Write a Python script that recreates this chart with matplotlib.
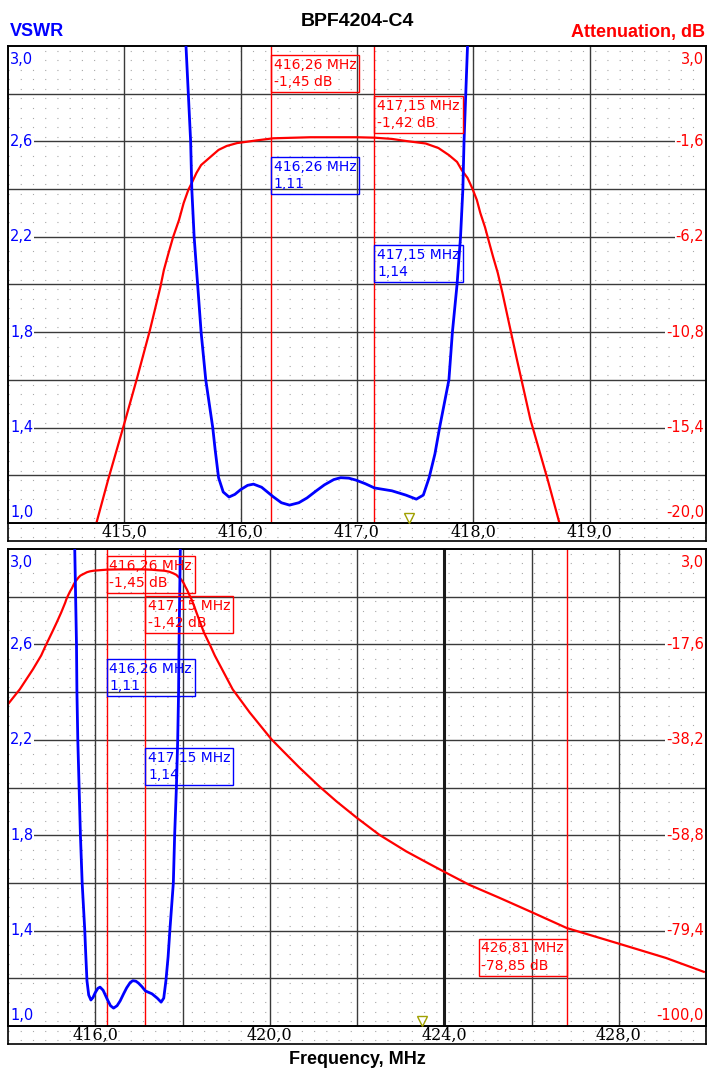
import numpy as np
import matplotlib
matplotlib.use("Agg")
import matplotlib.pyplot as plt
from matplotlib.transforms import blended_transform_factory

# --- data (same sweep shown in both panels) ---
vswr_freq = [415.53, 415.57, 415.58, 415.60, 415.63, 415.66, 415.70, 415.76, 415.78,
             415.81, 415.85, 415.90, 415.95, 416.00, 416.06, 416.11, 416.18, 416.28,
             416.35, 416.42, 416.50, 416.57, 416.65, 416.72, 416.80, 416.86, 416.93,
             416.99, 417.07, 417.15, 417.30, 417.42, 417.51, 417.57, 417.62, 417.67,
             417.71, 417.79, 417.82, 417.86, 417.89, 417.91, 417.92, 417.95]
vswr_val = [3.00, 2.60, 2.40, 2.20, 2.00, 1.80, 1.60, 1.40, 1.31,
            1.19, 1.13, 1.109, 1.12, 1.14, 1.158, 1.163, 1.15, 1.11,
            1.085, 1.075, 1.085, 1.105, 1.135, 1.16, 1.182, 1.19, 1.188,
            1.18, 1.165, 1.147, 1.135, 1.117, 1.10, 1.117, 1.19, 1.29,
            1.40, 1.60, 1.80, 2.00, 2.20, 2.40, 2.60, 3.00]

att_freq = [414.00, 414.27, 414.57, 414.76, 414.86, 415.01, 415.11, 415.22, 415.31,
            415.34, 415.38, 415.42, 415.47, 415.51, 415.55, 415.58, 415.62, 415.66,
            415.74, 415.81, 415.88, 415.97, 416.14, 416.28, 416.60, 417.00, 417.15,
            417.30, 417.42, 417.59, 417.70, 417.79, 417.86, 417.90, 417.95, 417.99,
            418.03, 418.06, 418.10, 418.13, 418.17, 418.21, 418.25, 418.37, 418.49,
            418.64, 418.74, 419.15, 419.54, 420.04, 420.29, 420.68, 421.14, 421.53,
            421.99, 422.51, 423.13, 423.66, 424.00, 424.57, 425.26, 426.00, 426.81,
            427.96, 429.08, 429.95]
att_val = [-30.5, -27.3, -23.0, -20.0, -17.93, -15.0, -13.0, -10.7, -8.62,
           -7.8, -6.98, -6.2, -5.39, -4.57, -3.94, -3.6, -3.12, -2.74,
           -2.35, -2.01, -1.82, -1.68, -1.55, -1.45, -1.40, -1.40, -1.42,
           -1.48, -1.58, -1.70, -1.92, -2.26, -2.59, -2.98, -3.36, -3.85,
           -4.42, -5.05, -5.73, -6.35, -7.17, -7.94, -8.9, -12.0, -15.0,
           -17.93, -20.0, -27.3, -32.3, -38.1, -40.5, -44.2, -48.3, -51.5,
           -55.0, -58.7, -62.3, -65.0, -66.7, -69.5, -72.3, -75.4, -78.85,
           -82.1, -85.3, -88.3]

marker_freq = [416.26, 417.15]
marker_att_txt = ["-1,45 dB", "-1,42 dB"]
marker_vswr_txt = ["1,11", "1,14"]
far_marker_freq = 426.81
far_marker_txt = "-78,85 dB"

vswr_ticks = [1.0, 1.4, 1.8, 2.2, 2.6, 3.0]
top_att_ticks = [-20.0, -15.4, -10.8, -6.2, -1.6, 3.0]
bot_att_ticks = [-100.0, -79.4, -58.8, -38.2, -17.6, 3.0]
top_freq_labels = [415.0, 416.0, 417.0, 418.0, 419.0]
bot_freq_labels = [416.0, 420.0, 424.0, 428.0]

BLUE = "#0000ff"
RED = "#ff0000"
GRID = "#3a3a3a"
DOTS = "#a8a8a8"

W, H = 715, 1076
fig = plt.figure(figsize=(W / 100, H / 100), dpi=100)


def px_axes(x0, y0, x1, y1):
    return fig.add_axes([x0 / W, 1 - y1 / H, (x1 - x0) / W, (y1 - y0) / H])


def fmt(v, nd=1):
    return f"{v:.{nd}f}".replace(".", ",")


def panel(y_top, y_bot, y_strip, xlim, xstep, xlabels, alim, aticks, tri_freq,
          boxes, heavy=None, far=False):
    ax2 = px_axes(8, y_top, 706, y_bot)
    ax2.set_xlim(xlim)
    ax2.set_ylim(alim)
    ax = ax2.twinx()
    ax.set_ylim(1.0, 3.0)
    ax2.set_zorder(1)
    ax.set_zorder(2)
    ax.patch.set_visible(False)
    for a in (ax, ax2):
        a.set_xticks([])
        a.set_yticks([])
        for s in a.spines.values():
            s.set_color("black")
            s.set_linewidth(1.2)

    # background dots and grid
    for k in range(50):
        ax2.plot([0, 1], [(k + 0.5) / 50] * 2, transform=ax2.transAxes,
                 color=DOTS, lw=0.8, ls=(0, (1, 10)), zorder=0)
    for xx in np.arange(xlim[0] + xstep, xlim[1] - 1e-6, xstep):
        ax2.axvline(xx, color=GRID, lw=1.0, zorder=1)
    astep = (alim[1] - alim[0]) / 10
    for k in range(1, 10):
        ax2.axhline(alim[0] + k * astep, color=GRID, lw=1.0, zorder=1)
    if heavy is not None:
        ax2.axvline(heavy, color="#1a1a1a", lw=2.2, zorder=1)

    # marker lines
    mk = list(marker_freq) + ([far_marker_freq] if far else [])
    for f in mk:
        ax2.axvline(f, color=RED, lw=1.0, zorder=2)

    ax2.plot(att_freq, att_val, color=RED, lw=1.6, zorder=3)
    ax.plot(vswr_freq, vswr_val, color=BLUE, lw=2.0, zorder=3)
    ax.plot([tri_freq], [1.022], marker="v", mfc="none", mec="#a0a000",
            mew=1.0, ms=7, ls="none", zorder=4)

    # tick labels inside the plot
    lab_kw = dict(fontsize=10.5, family="DejaVu Sans",
                  bbox=dict(facecolor="white", edgecolor="none", pad=0.5), zorder=5)
    tl = blended_transform_factory(ax.transAxes, ax.transData)
    for v in vswr_ticks:
        va = "top" if v == 3.0 else ("bottom" if v == 1.0 else "center")
        dy = -4 if v == 3.0 else (2 if v == 1.0 else 0)
        ax.annotate(fmt(v), (0, v), xycoords=tl, xytext=(1.5, dy),
                    textcoords="offset points", ha="left", va=va, color=BLUE, **lab_kw)
    tr = blended_transform_factory(ax2.transAxes, ax2.transData)
    for v in aticks:
        va = "top" if v == aticks[-1] else ("bottom" if v == aticks[0] else "center")
        dy = -4 if v == aticks[-1] else (2 if v == aticks[0] else 0)
        ax.annotate(fmt(v), (1, v), xycoords=tr, xytext=(-1.5, dy),
                    textcoords="offset points", ha="right", va=va, color=RED, **lab_kw)

    # marker readouts
    tb = blended_transform_factory(ax.transData, ax.transAxes)
    for (f, yf, txt, col, side) in boxes:
        ax.annotate(txt, (f, yf), xycoords=tb,
                    xytext=(2 if side == "left" else -2, -2), textcoords="offset points",
                    ha=side, va="top", multialignment="left", color=col,
                    fontsize=10, family="DejaVu Sans", linespacing=1.3, zorder=6,
                    bbox=dict(boxstyle="square,pad=0.2", facecolor="none",
                              edgecolor=col, lw=1.0))

    # frequency strip
    st = px_axes(8, y_bot, 706, y_strip)
    st.set_xlim(xlim)
    st.set_ylim(0, 1)
    st.set_xticks([])
    st.set_yticks([])
    for s in st.spines.values():
        s.set_linewidth(1.2)
    for k in range(2):
        st.plot([0, 1], [0.25 + 0.5 * k] * 2, transform=st.transAxes,
                color=DOTS, lw=0.8, ls=(0, (1, 10)))
    for f in xlabels:
        st.text(f, 0.5, fmt(f), ha="center", va="center", fontsize=11.5,
                family="DejaVu Serif", color="black")
    return ax, ax2


top_boxes = [
    (marker_freq[0], 0.981, f"416,26 MHz\n{marker_att_txt[0]}", RED, "left"),
    (marker_freq[1], 0.895, f"417,15 MHz\n{marker_att_txt[1]}", RED, "left"),
    (marker_freq[0], 0.767, f"416,26 MHz\n{marker_vswr_txt[0]}", BLUE, "left"),
    (marker_freq[1], 0.583, f"417,15 MHz\n{marker_vswr_txt[1]}", BLUE, "left"),
]
bot_boxes = [
    (marker_freq[0], 0.985, f"416,26 MHz\n{marker_att_txt[0]}", RED, "left"),
    (marker_freq[1], 0.901, f"417,15 MHz\n{marker_att_txt[1]}", RED, "left"),
    (marker_freq[0], 0.769, f"416,26 MHz\n{marker_vswr_txt[0]}", BLUE, "left"),
    (marker_freq[1], 0.582, f"417,15 MHz\n{marker_vswr_txt[1]}", BLUE, "left"),
    (far_marker_freq, 0.183, f"426,81 MHz\n{far_marker_txt}", RED, "right"),
]

panel(46, 523, 541, (414.0, 420.0), 1.0, top_freq_labels, (-20.0, 3.0),
      top_att_ticks, 417.45, top_boxes)
panel(549, 1026, 1044, (414.0, 430.0), 2.0, bot_freq_labels, (-100.0, 3.0),
      bot_att_ticks, 423.5, bot_boxes, heavy=424.0, far=True)

fig.text(357 / W, 1 - 21 / H, "BPF4204-C4", ha="center", va="center",
         fontsize=14, fontweight="bold", family="Liberation Sans")
fig.text(10 / W, 1 - 32 / H, "VSWR", ha="left", va="center", color=BLUE,
         fontsize=13, fontweight="bold", family="Liberation Sans")
fig.text(705 / W, 1 - 32 / H, "Attenuation, dB", ha="right", va="center", color=RED,
         fontsize=13, fontweight="bold", family="Liberation Sans")
fig.text(357 / W, 1 - 1060 / H, "Frequency, MHz", ha="center", va="center",
         fontsize=13, fontweight="bold", family="Liberation Sans")

fig.savefig("out.png", dpi=100)
